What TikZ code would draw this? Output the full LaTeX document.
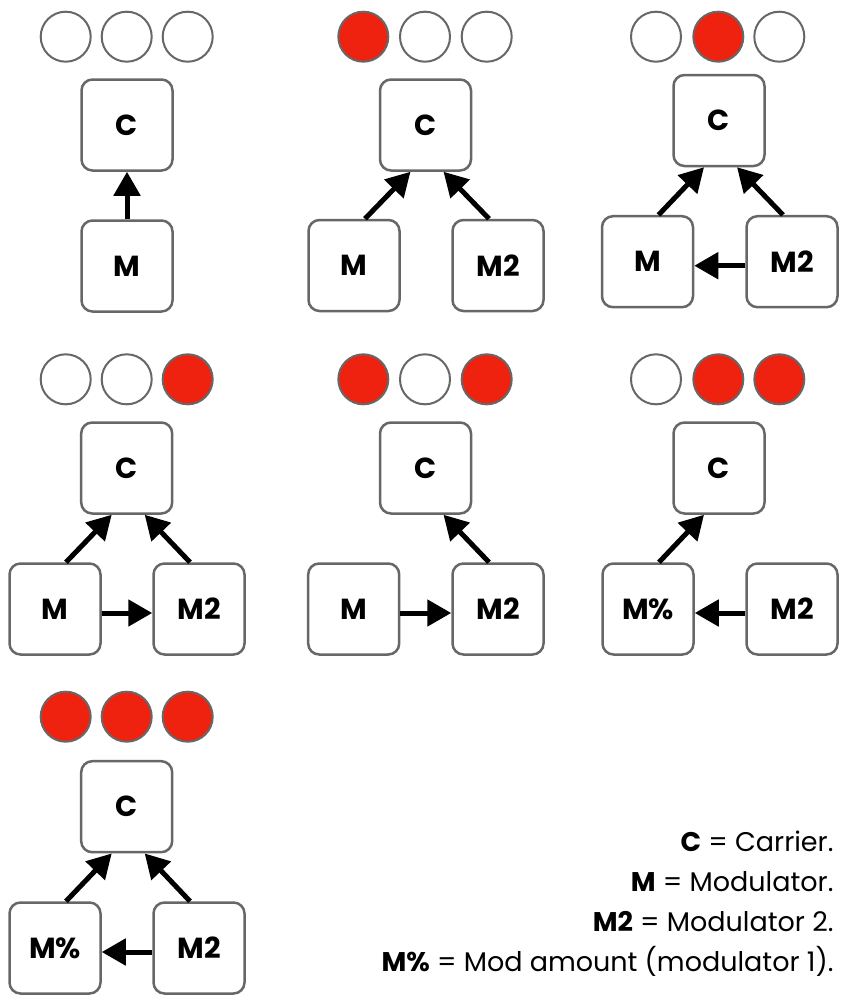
\documentclass[tikz,border=0pt]{standalone}
\usepackage{fontspec}
\setmainfont{Poppins}
\usetikzlibrary{arrows.meta}
\definecolor{strokegray}{HTML}{676767}
\definecolor{dotred}{HTML}{EE220E}
\begin{document}
\begin{tikzpicture}[x=1pt,y=-1pt,
  box/.style={draw=strokegray, line width=2.5pt, rounded corners=11pt, fill=white, minimum width=91pt, minimum height=91pt, inner sep=0pt, font=\fontsize{29}{35}\selectfont\bfseries},
  dot/.style={circle, draw=strokegray, line width=2pt, minimum size=50pt, inner sep=0pt, fill=white},
  on/.style={dot, fill=dotred},
  link/.style={line width=5pt, -{Triangle[width=26pt,length=24pt]}},
  legend/.style={anchor=base east, font=\fontsize{27}{32}\selectfont}]
\fill[white] (0,0) rectangle (841,1001);
\useasboundingbox (0,0) rectangle (841,1001);

% Panel 1
\node[dot] (p1d1) at (65.7,36.7) {};
\node[dot] (p1d2) at (126.7,36.7) {};
\node[dot] (p1d3) at (187.7,36.7) {};
\node[box] (p1c) at (127,125) {C};
\node[box] (p1m) at (127,266) {M};
\draw[link] (p1m.north) -- (p1c.south);

% Panel 2
\node[on] (p2d1) at (363.3,36.7) {};
\node[dot] (p2d2) at (425,36.7) {};
\node[dot] (p2d3) at (486.7,36.7) {};
\node[box] (p2c) at (425.5,125) {C};
\node[box] (p2m) at (354,265.5) {M};
\node[box] (p2mm) at (498,265.5) {M2};
\draw[link] ([xshift=11pt]p2m.north) -- ([xshift=-15pt]p2c.south);
\draw[link] ([xshift=-9pt]p2mm.north) -- ([xshift=18pt]p2c.south);

% Panel 3
\node[dot] (p3d1) at (656,36.7) {};
\node[on] (p3d2) at (718.3,36.7) {};
\node[dot] (p3d3) at (779.3,36.7) {};
\node[box] (p3c) at (719,120.5) {C};
\node[box] (p3m) at (647.5,261.7) {M};
\node[box] (p3mm) at (792,261.7) {M2};
\draw[link] ([xshift=11pt]p3m.north) -- ([xshift=-15pt]p3c.south);
\draw[link] ([xshift=-9pt]p3mm.north) -- ([xshift=18pt]p3c.south);
\draw[link] ([yshift=-4pt]p3mm.west) -- ([yshift=-4pt]p3m.east);

% Panel 4
\node[dot] (p4d1) at (65.7,379.3) {};
\node[dot] (p4d2) at (126.7,379.3) {};
\node[on] (p4d3) at (187.7,379.3) {};
\node[box] (p4c) at (126.7,468) {C};
\node[box] (p4m) at (55,609) {M};
\node[box] (p4mm) at (199,609) {M2};
\draw[link] ([xshift=11pt]p4m.north) -- ([xshift=-15pt]p4c.south);
\draw[link] ([xshift=-9pt]p4mm.north) -- ([xshift=18pt]p4c.south);
\draw[link] ([yshift=-4pt]p4m.east) -- ([yshift=-4pt]p4mm.west);

% Panel 5
\node[on] (p5d1) at (363.3,379.3) {};
\node[dot] (p5d2) at (425,379.3) {};
\node[on] (p5d3) at (486.7,379.3) {};
\node[box] (p5c) at (425.5,468) {C};
\node[box] (p5m) at (353.7,609) {M};
\node[box] (p5mm) at (498,609) {M2};
\draw[link] ([xshift=-9pt]p5mm.north) -- ([xshift=18pt]p5c.south);
\draw[link] ([yshift=-4pt]p5m.east) -- ([yshift=-4pt]p5mm.west);

% Panel 6
\node[dot] (p6d1) at (656,379.3) {};
\node[on] (p6d2) at (718.3,379.3) {};
\node[on] (p6d3) at (779.3,379.3) {};
\node[box] (p6c) at (719,468) {C};
\node[box] (p6m) at (648,609) {M\%};
\node[box] (p6mm) at (792,609) {M2};
\draw[link] ([xshift=11pt]p6m.north) -- ([xshift=-15pt]p6c.south);
\draw[link] ([yshift=-4pt]p6mm.west) -- ([yshift=-4pt]p6m.east);

% Panel 7
\node[on] (p7d1) at (65.7,716.7) {};
\node[on] (p7d2) at (126.7,716.7) {};
\node[on] (p7d3) at (187.7,716.7) {};
\node[box] (p7c) at (126.7,806.7) {C};
\node[box] (p7m) at (55,948) {M\%};
\node[box] (p7mm) at (199,948) {M2};
\draw[link] ([xshift=11pt]p7m.north) -- ([xshift=-15pt]p7c.south);
\draw[link] ([xshift=-9pt]p7mm.north) -- ([xshift=18pt]p7c.south);
\draw[link] ([yshift=-4pt]p7mm.west) -- ([yshift=-4pt]p7m.east);

% Legend
\node[legend] (l1) at (837,851.7) {\textbf{C} = Carrier.};
\node[legend] (l2) at (837,891.7) {\textbf{M} = Modulator.};
\node[legend] (l3) at (837,931.7) {\textbf{M2} = Modulator 2.};
\node[legend] (l4) at (837,971.7) {\textbf{M\%} = Mod amount (modulator 1).};
\end{tikzpicture}
\end{document}
